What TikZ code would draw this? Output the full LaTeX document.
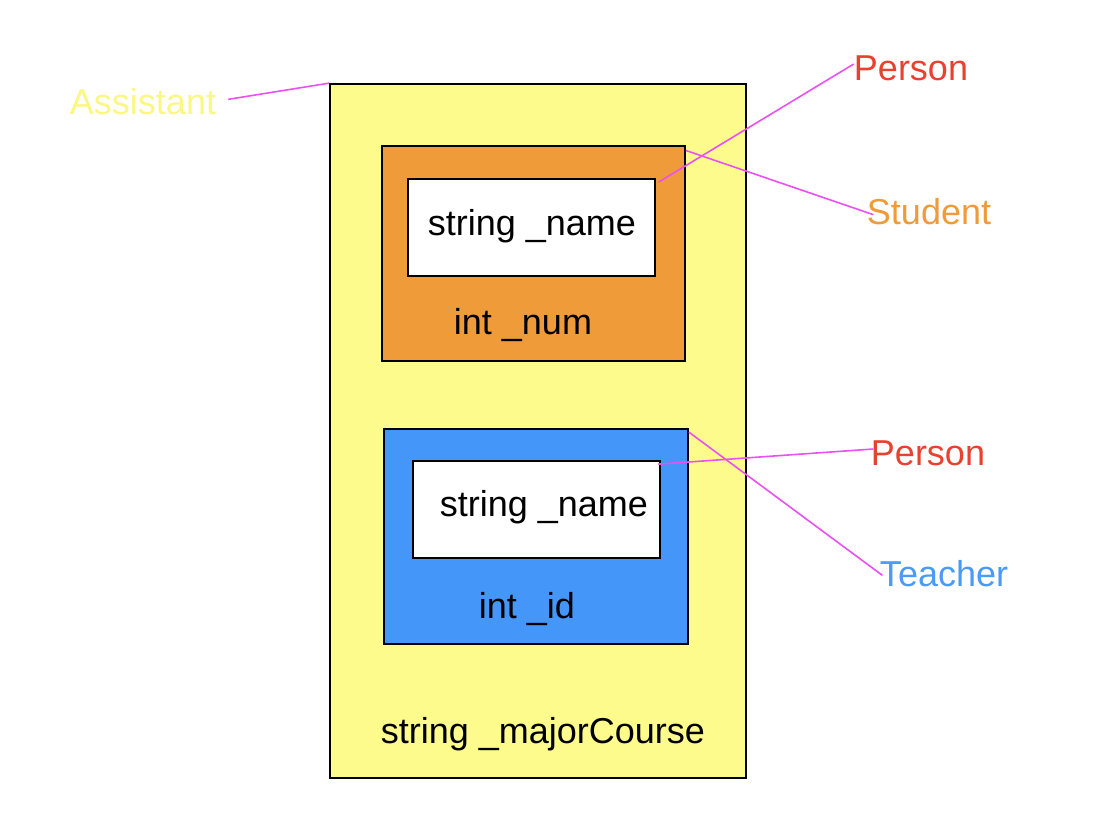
\documentclass[tikz,border=0pt]{standalone}
\usepackage{fontspec}
\setmainfont{Liberation Sans}
\usepackage{tikz}
\usetikzlibrary{positioning}
\definecolor{boxyellow}{HTML}{FEFB8D}
\definecolor{labyellow}{HTML}{FBF784}
\definecolor{boxorange}{HTML}{F09B3A}
\definecolor{boxblue}{HTML}{4496F8}
\definecolor{labred}{HTML}{E8412F}
\definecolor{labblue}{HTML}{4A9AF6}
\definecolor{pointer}{HTML}{EB50F2}
\tikzset{
  member/.style={draw, line width=1.3pt, inner sep=0pt},
  field/.style={font=\fontsize{27}{30}\selectfont},
  tag/.style={font=\fontsize{27}{30}\selectfont, inner sep=0pt},
  pointer/.style={draw=pointer, line width=1.2pt}
}

\begin{document}
\begin{tikzpicture}[x=0.75pt, y=-0.75pt]
            \useasboundingbox (0,0) rectangle (1098,832);
            \node [member, fill=boxyellow, minimum width=312pt, minimum height=520.5pt] (A) at (538,431) {};
            \node [member, fill=boxorange, minimum width=227.25pt, minimum height=161.25pt] (S) at (533.5,253.5) {};
            \node [member, fill=white, minimum width=185.25pt, minimum height=72.75pt] (SP) at (531.5,227.5) {};
            \node [member, fill=boxblue, minimum width=228pt, minimum height=161.25pt] (T) at (536,536.5) {};
            \node [member, fill=white, minimum width=185.25pt, minimum height=72.75pt] (TP) at (536.5,509.5) {};

            \node [field] (SPname) at (532,226) {string \_name};
            \node [field] (Snum) at (523,325) {int \_num};
            \node [field] (TPname) at (544,507) {string \_name};
            \node [field] (Tid) at (527,609) {int \_id};
            \node [field] (Acourse) at (543,734) {string \_majorCourse};

            \node [tag, text=labyellow] (A1) at (143,102) {Assistant};
            \node [tag, text=labred] (SP1) at (911,68) {Person};
            \node [tag, text=boxorange] (S1) at (929,212) {Student};
            \node [tag, text=labred] (TP1) at (928,453) {Person};
            \node [tag, text=labblue] (T1) at (944,574) {Teacher};

            \draw[pointer] ([xshift=9pt, yshift=2pt]A1.east) -- (A.north west);
            \draw[pointer] ([xshift=2pt, yshift=-3pt]SP.north east) -- ([yshift=3pt]SP1.west);
            \draw[pointer] ([yshift=-4pt]S.north east) -- ([xshift=5pt, yshift=-2pt]S1.west);
            \draw[pointer] ([xshift=-2pt, yshift=-3pt]TP.north east) -- ([xshift=2pt, yshift=3pt]TP1.west);
            \draw[pointer] ([yshift=-3pt]T.north east) -- ([xshift=2pt, yshift=-1pt]T1.west);
        \end{tikzpicture}
\end{document}
